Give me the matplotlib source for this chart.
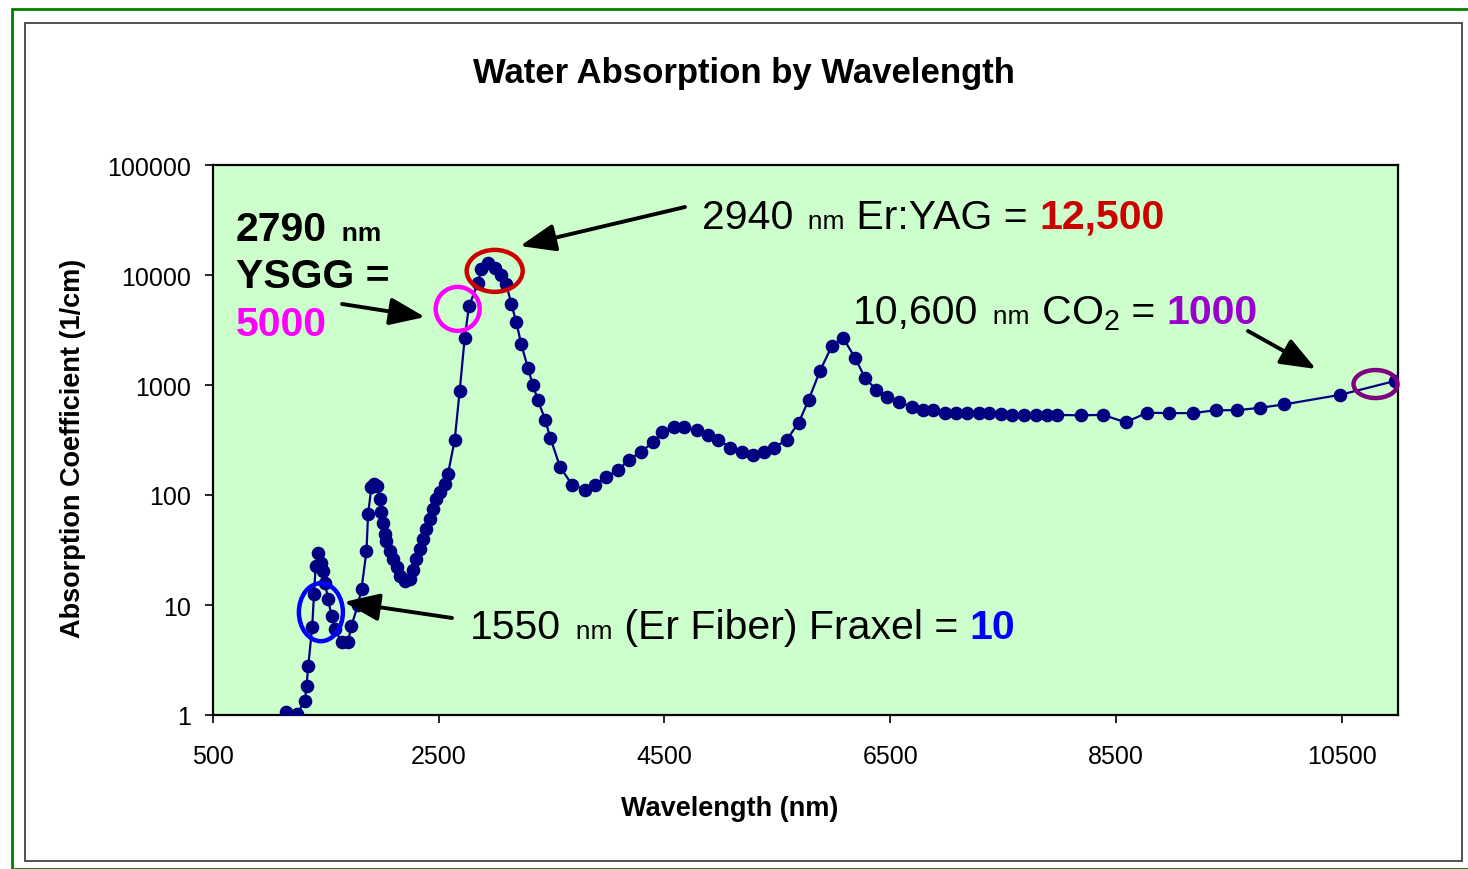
import numpy as np
import matplotlib
matplotlib.use('Agg')
from matplotlib import pyplot as plt
from matplotlib.patches import Ellipse, Rectangle

plt.rcParams['font.family'] = ['Liberation Sans', 'DejaVu Sans']
plt.rcParams['mathtext.fontset'] = 'custom'
plt.rcParams['mathtext.rm'] = 'Liberation Sans'

# data
wavelength = [1150, 1245, 1314, 1329, 1344, 1379, 1395, 1410, 1432, 1460,
              1476, 1491, 1520, 1550, 1580, 1639, 1695, 1727, 1783, 1816,
              1860, 1874, 1904, 1930, 1949, 1978, 1993, 2007, 2022, 2037,
              2066, 2096, 2126, 2155, 2199, 2243, 2273, 2303, 2332, 2361,
              2391, 2420, 2450, 2479, 2509, 2553, 2582, 2642, 2686, 2730,
              2768, 2848, 2878, 2936, 2996, 3055, 3099, 3143, 3188, 3232,
              3291, 3335, 3379, 3444, 3489, 3577, 3683, 3792, 3881, 3984,
              4093, 4182, 4288, 4397, 4480, 4583, 4671, 4786, 4890, 4978,
              5082, 5188, 5282, 5386, 5474, 5583, 5689, 5777, 5878, 5984,
              6084, 6190, 6279, 6379, 6476, 6580, 6692, 6792, 6881, 6984,
              7082, 7185, 7288, 7376, 7480, 7583, 7686, 7790, 7893, 7981,
              8188, 8385, 8586, 8778, 8970, 9185, 9383, 9575, 9773, 9988,
              10490, 10976]
absorption = [1.06, 1.02, 1.35, 1.85, 2.8, 6.3, 12.6, 22.7, 29.6, 24,
              20.5, 16, 11.3, 8, 6, 4.6, 4.6, 6.5, 9.9, 14,
              31, 67, 118, 125, 122, 92, 70, 56, 44, 38,
              31, 26, 22, 18.5, 16.6, 17.2, 21, 26, 32, 40,
              49, 61, 75, 92, 106, 125, 155, 318, 889, 2660,
              5200, 8500, 11400, 12900, 11600, 9900, 8200, 5500, 3700, 2340,
              1420, 990, 730, 480, 330, 178, 124, 112, 124, 147,
              169, 209, 244, 301, 370, 412, 412, 389, 353, 318,
              270, 244, 232, 244, 270, 318, 452, 730, 1340, 2270,
              2670, 1760, 1150, 905, 775, 705, 626, 595, 595, 560,
              560, 560, 560, 560, 545, 535, 535, 535, 535, 535,
              530, 535, 458, 560, 555, 555, 590, 590, 620, 665,
              815, 1090]

xticks = [500, 2500, 4500, 6500, 8500, 10500]
yticks = [1, 10, 100, 1000, 10000, 100000]
ytick_labels = ['1', '10', '100', '1000', '10000', '100000']

# highlighted lasers: (wavelength, absorption, colour, ellipse w px, h px)
lasers = [
    (2996, 10900, '#CC0000', 56, 42),
    (2668, 4920, '#FF00FF', 44, 44),
    (1456, 8.6, '#0000FF', 44, 58),
    (10801, 1020, '#800080', 44, 28),
]

W, H = 1468, 870
fig = plt.figure(figsize=(W / 100, H / 100), dpi=100)
fig.patch.set_facecolor('white')

# frames
fig.add_artist(Rectangle((12 / W, 1 - 870 / H), 1.2, (870 - 10) / H,
                         transform=fig.transFigure, fill=False,
                         edgecolor='#008000', lw=2))
fig.add_artist(Rectangle((25 / W, 1 - 862 / H), (1462 - 25) / W, (862 - 24) / H,
                         transform=fig.transFigure, fill=False,
                         edgecolor='#333333', lw=1.2))

ax = fig.add_axes([213 / W, 1 - 716 / H, 1185 / W, 550 / H])
ax.set_facecolor('#CCFFCC')
ax.plot(wavelength, absorption, '-o', color='#000080', lw=1.6,
        markersize=8.8, zorder=3)

ax.set_yscale('log')
ax.set_xlim(500, 11000)
ax.set_ylim(1, 100000)
ax.set_xticks(xticks)
ax.set_xticklabels([str(t) for t in xticks])
ax.set_yticks(yticks)
ax.set_yticklabels(ytick_labels)
ax.minorticks_off()
ax.tick_params(axis='both', direction='out', length=6, width=1.2,
               labelsize=18)
ax.tick_params(axis='x', pad=15)
ax.tick_params(axis='y', pad=10)
for sp in ax.spines.values():
    sp.set_linewidth(1.6)
    sp.set_color('black')

fig.text(744 / W, 1 - 74 / H, 'Water Absorption by Wavelength',
         ha='center', va='center', fontsize=25, weight='bold')
fig.text(730 / W, 1 - 809 / H, 'Wavelength (nm)', ha='center', va='center',
         fontsize=19.5, weight='bold')
fig.text(73 / W, 1 - 448 / H, 'Absorption Coefficient (1/cm)', ha='center',
         va='center', rotation=90, fontsize=19.5, weight='bold')

# ellipses round the laser wavelengths
for x, y, c, w, h in lasers:
    cx = (x - 500) / 10500
    cy = np.log10(y) / 5
    ax.add_patch(Ellipse((cx, cy), w / 1185, h / 550, transform=ax.transAxes,
                         fill=False, edgecolor=c, lw=3.2, zorder=4,
                         clip_on=False))


def rich(x, y, parts):
    # parts: (text, size, colour, weight)
    s, size, c, wt = parts[0]
    t = ax.text(x, y, s, transform=ax.transAxes, fontsize=size, color=c,
                weight=wt, va='baseline', ha='left', zorder=5)
    for s, size, c, wt in parts[1:]:
        t = ax.annotate(s, xy=(1, y), xycoords=(t, 'axes fraction'),
                        fontsize=size, color=c, weight=wt, va='baseline',
                        ha='left', zorder=5)


big = 29.5
small = 19
rich(0.4127, 0.8855, [('2940', big, 'black', 'normal'),
                      ('  nm', small, 'black', 'normal'),
                      (' Er:YAG = ', big, 'black', 'normal'),
                      ('12,500', big, '#CC0000', 'bold')])
rich(0.540, 0.7127, [('10,600', big, 'black', 'normal'),
                     ('  nm', small, 'black', 'normal'),
                     (r' CO$_\mathregular{2}$', big, 'black', 'normal'),
                     (' = ', big, 'black', 'normal'),
                     ('1000', big, '#9900CC', 'bold')])
rich(0.2169, 0.140, [('1550', big, 'black', 'normal'),
                     ('  nm', small, 'black', 'normal'),
                     (' (Er Fiber) Fraxel = ', big, 'black', 'normal'),
                     ('10', big, '#0000FF', 'bold')])
rich(0.0194, 0.8636, [('2790', big, 'black', 'bold'),
                      ('  nm', small, 'black', 'bold')])
rich(0.0194, 0.778, [('YSGG =', big, 'black', 'bold')])
rich(0.0194, 0.691, [('5000', big, '#FF00FF', 'bold')])

arrows = [
    ((0.3983, 0.9236), (0.2591, 0.8527)),
    ((0.1089, 0.7473), (0.1789, 0.7236)),
    ((0.8734, 0.6982), (0.9308, 0.6291)),
    ((0.2017, 0.1764), (0.1105, 0.2055)),
]
for tail, head in arrows:
    ax.annotate('', xy=head, xytext=tail, xycoords='axes fraction',
                textcoords='axes fraction',
                arrowprops=dict(arrowstyle='-|>,head_length=0.9,head_width=0.35',
                                color='black', lw=2.8, mutation_scale=24,
                                shrinkA=0, shrinkB=0))

fig.savefig('out.png', dpi=100)
